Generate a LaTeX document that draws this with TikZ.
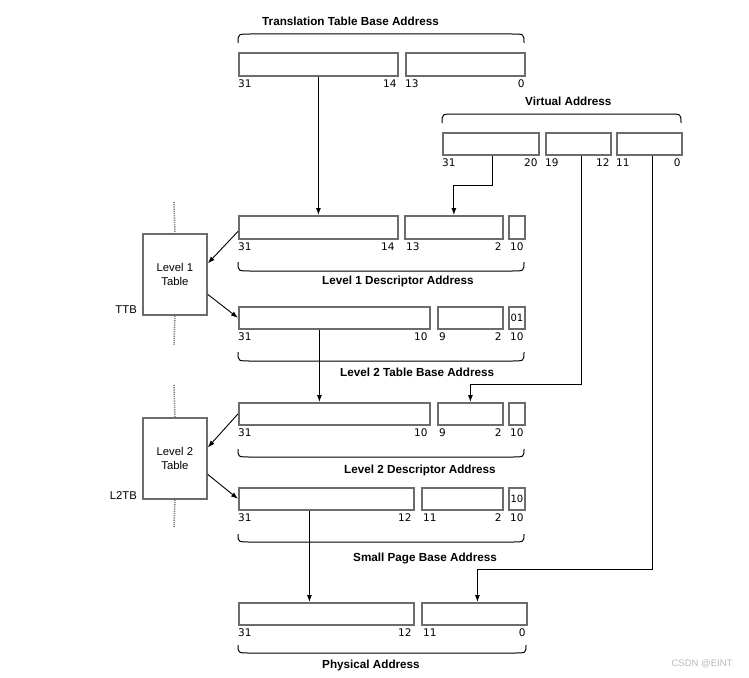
\documentclass[tikz,border=0pt]{standalone}
\usepackage{fontspec}
\setmainfont{Liberation Sans}
\newfontfamily\numfont{DejaVu Sans}
\usetikzlibrary{arrows.meta}

\definecolor{boxgray}{RGB}{108,108,108}

\begin{document}
\begin{tikzpicture}[x=1pt, y=-1pt,
    field/.style={draw=boxgray, line width=1.8pt, inner sep=0pt, anchor=north west, font=\numfont\fontsize{10}{11}\selectfont},
    bits/.style={inner sep=0pt, font=\numfont\fontsize{10.5}{12}\selectfont},
    title/.style={inner sep=0pt, anchor=base west, font=\bfseries\fontsize{11.7}{14}\selectfont},
    tblbox/.style={draw=boxgray, line width=1.8pt, anchor=north west, minimum width=64pt, minimum height=81pt,
        align=center, font=\fontsize{11.3}{14}\selectfont},
    side/.style={inner sep=0pt, anchor=south east, font=\fontsize{11.3}{14}\selectfont},
    link/.style={-{Latex[length=7pt,width=5pt]}, line width=0.9pt},
    brace/.style={line width=1pt},
    guide/.style={draw=gray, line width=1.6pt, dash pattern=on 1.2pt off 1pt}]

    % Fix the frame to the size of the reference
    \useasboundingbox (0,0) rectangle (749,677);

    % Translation table base address
    \node[title] (ttbatitle) at (262,26) {Translation Table Base Address};
    \draw[brace] (238,43) .. controls (238,34) .. (250,34) -- (512,34) .. controls (524,34) .. (524,43);
    \node[field, minimum width=159pt, minimum height=23pt] (tba1) at (238,52) {};
    \node[field, minimum width=119pt, minimum height=23pt] (tba2) at (405,52) {};
    \node[bits, anchor=north west] (tba1l) at ([yshift=-3pt]tba1.south west) {31};
    \node[bits, anchor=north east] (tba1r) at ([xshift=-2pt,yshift=-3pt]tba1.south east) {14};
    \node[bits, anchor=north west] (tba2l) at ([yshift=-3pt]tba2.south west) {13};
    \node[bits, anchor=north east] (tba2r) at ([xshift=-1pt,yshift=-3pt]tba2.south east) {0};

    % Virtual address
    \node[title] (vatitle) at (525,105) {Virtual Address};
    \draw[brace] (442,123) .. controls (442,114) .. (454,114) -- (669,114) .. controls (681,114) .. (681,123);
    \node[field, minimum width=96pt, minimum height=22pt] (va1) at (442,132) {};
    \node[field, minimum width=65pt, minimum height=22pt] (va2) at (545,132) {};
    \node[field, minimum width=65pt, minimum height=22pt] (va3) at (616,132) {};
    \node[bits, anchor=north west] (va1l) at ([yshift=-3pt]va1.south west) {31};
    \node[bits, anchor=north east] (va1r) at ([xshift=-2pt,yshift=-3pt]va1.south east) {20};
    \node[bits, anchor=north west] (va2l) at ([yshift=-3pt]va2.south west) {19};
    \node[bits, anchor=north east] (va2r) at ([xshift=-2pt,yshift=-3pt]va2.south east) {12};
    \node[bits, anchor=north west] (va3l) at ([yshift=-3pt]va3.south west) {11};
    \node[bits, anchor=north east] (va3r) at ([xshift=-2pt,yshift=-3pt]va3.south east) {0};

    % Level 1 descriptor address
    \node[field, minimum width=159pt, minimum height=23pt] (l1d1) at (238,215) {};
    \node[field, minimum width=98pt, minimum height=23pt] (l1d2) at (404,215) {};
    \node[field, minimum width=16pt, minimum height=23pt] (l1d3) at (508,215) {};
    \node[bits, anchor=north west] (l1d1l) at ([yshift=-3pt]l1d1.south west) {31};
    \node[bits, anchor=north east] (l1d1r) at ([xshift=-4pt,yshift=-3pt]l1d1.south east) {14};
    \node[bits, anchor=north west] (l1d2l) at ([xshift=2pt,yshift=-3pt]l1d2.south west) {13};
    \node[bits, anchor=north east] (l1d2r) at ([xshift=-2pt,yshift=-3pt]l1d2.south east) {2};
    \node[bits, anchor=north] (l1d3b) at ([yshift=-3pt]l1d3.south) {10};
    \draw[brace] (238,262) .. controls (238,271) .. (250,271) -- (512,271) .. controls (524,271) .. (524,262);
    \node[title] (l1dtitle) at (322,284) {Level 1 Descriptor Address};

    % Level 2 table base address
    \node[field, minimum width=191pt, minimum height=22pt] (l2b1) at (238,306) {};
    \node[field, minimum width=65pt, minimum height=22pt] (l2b2) at (437,306) {};
    \node[field, minimum width=16pt, minimum height=22pt] (l2b3) at (508,306) {01};
    \node[bits, anchor=north west] (l2b1l) at ([yshift=-3pt]l2b1.south west) {31};
    \node[bits, anchor=north east] (l2b1r) at ([xshift=-3pt,yshift=-3pt]l2b1.south east) {10};
    \node[bits, anchor=north west] (l2b2l) at ([xshift=2pt,yshift=-3pt]l2b2.south west) {9};
    \node[bits, anchor=north east] (l2b2r) at ([xshift=-2pt,yshift=-3pt]l2b2.south east) {2};
    \node[bits, anchor=north] (l2b3b) at ([yshift=-3pt]l2b3.south) {10};
    \draw[brace] (238,352) .. controls (238,361) .. (250,361) -- (512,361) .. controls (524,361) .. (524,352);
    \node[title] (l2btitle) at (340,376) {Level 2 Table Base Address};

    % Level 2 descriptor address
    \node[field, minimum width=191pt, minimum height=22pt] (l2d1) at (238,402) {};
    \node[field, minimum width=65pt, minimum height=22pt] (l2d2) at (437,402) {};
    \node[field, minimum width=16pt, minimum height=22pt] (l2d3) at (508,402) {};
    \node[bits, anchor=north west] (l2d1l) at ([yshift=-3pt]l2d1.south west) {31};
    \node[bits, anchor=north east] (l2d1r) at ([xshift=-3pt,yshift=-3pt]l2d1.south east) {10};
    \node[bits, anchor=north west] (l2d2l) at ([xshift=2pt,yshift=-3pt]l2d2.south west) {9};
    \node[bits, anchor=north east] (l2d2r) at ([xshift=-2pt,yshift=-3pt]l2d2.south east) {2};
    \node[bits, anchor=north] (l2d3b) at ([yshift=-3pt]l2d3.south) {10};
    \draw[brace] (238,449) .. controls (238,457) .. (250,457) -- (512,457) .. controls (524,457) .. (524,449);
    \node[title] (l2dtitle) at (344,473) {Level 2 Descriptor Address};

    % Small page base address
    \node[field, minimum width=175pt, minimum height=22pt] (spb1) at (238,487) {};
    \node[field, minimum width=81pt, minimum height=22pt] (spb2) at (421,487) {};
    \node[field, minimum width=16pt, minimum height=22pt] (spb3) at (508,487) {10};
    \node[bits, anchor=north west] (spb1l) at ([yshift=-3pt]spb1.south west) {31};
    \node[bits, anchor=north east] (spb1r) at ([xshift=-3pt,yshift=-3pt]spb1.south east) {12};
    \node[bits, anchor=north west] (spb2l) at ([xshift=2pt,yshift=-3pt]spb2.south west) {11};
    \node[bits, anchor=north east] (spb2r) at ([xshift=-2pt,yshift=-3pt]spb2.south east) {2};
    \node[bits, anchor=north] (spb3b) at ([yshift=-3pt]spb3.south) {10};
    \draw[brace] (238,534) .. controls (238,542) .. (250,542) -- (512,542) .. controls (524,542) .. (524,534);
    \node[title] (spbtitle) at (353,561) {Small Page Base Address};

    % Physical address
    \node[field, minimum width=175pt, minimum height=22pt] (pa1) at (238,602) {};
    \node[field, minimum width=105pt, minimum height=22pt] (pa2) at (421,602) {};
    \node[bits, anchor=north west] (pa1l) at ([yshift=-3pt]pa1.south west) {31};
    \node[bits, anchor=north east] (pa1r) at ([xshift=-3pt,yshift=-3pt]pa1.south east) {12};
    \node[bits, anchor=north west] (pa2l) at ([xshift=2pt,yshift=-3pt]pa2.south west) {11};
    \node[bits, anchor=north east] (pa2r) at ([xshift=-2pt,yshift=-3pt]pa2.south east) {0};
    \draw[brace] (238,645) .. controls (238,653) .. (250,653) -- (514,653) .. controls (526,653) .. (526,645);
    \node[title] (patitle) at (322,668) {Physical Address};

    % Level 1 and level 2 tables with their dotted guides
    \node[tblbox] (l1t) at (142,233) {Level 1\\Table};
    \node[side] (ttb) at ([xshift=-5pt,yshift=2pt]l1t.south west) {TTB};
    \coordinate (l1top) at (174,202);
    \coordinate (l1bot) at (174,345);
    \draw[guide] (l1top) -- (l1t.north);
    \draw[guide] (l1t.south) -- (l1bot);

    \node[tblbox] (l2t) at (142,417) {Level 2\\Table};
    \node[side] (l2tb) at ([xshift=-5pt,yshift=0pt]l2t.south west) {L2TB};
    \coordinate (l2top) at (174,385);
    \coordinate (l2bot) at (174,527);
    \draw[guide] (l2top) -- (l2t.north);
    \draw[guide] (l2t.south) -- (l2bot);

    % Table lookups
    \draw[link] ([yshift=-4pt]l1d1.west) -- ([yshift=11pt]l1t.east);
    \draw[link] ([yshift=-20pt]l1t.east) -- (l2b1.west);
    \draw[link] (l2d1.west) -- ([yshift=11pt]l2t.east);
    \draw[link] ([yshift=-16pt]l2t.east) -- (spb1.west);

    % Address bits passed down
    \draw[link] (tba1.south) -- (l1d1.north);
    \draw[link] ([xshift=2pt]va1.south) -- ++(0,30) -| (l1d2.north);
    \draw[link] ([xshift=-15pt]l2b1.south) -- ([xshift=-15pt]l2d1.north);
    \draw[link] ([xshift=3.5pt]va2.south) -- ++(0,229) -| (l2d2.north);
    \draw[link] ([xshift=-17pt]spb1.south) -- ([xshift=-17pt]pa1.north);
    \draw[link] ([xshift=3.5pt]va3.south) -- ++(0,414) -| ([xshift=3pt]pa2.north);

    % Watermark
    \node[inner sep=0pt, text=gray!55, font=\fontsize{9.5}{11}\selectfont] (wmark) at (702,664) {CSDN @EINT};

\end{tikzpicture}
\end{document}
